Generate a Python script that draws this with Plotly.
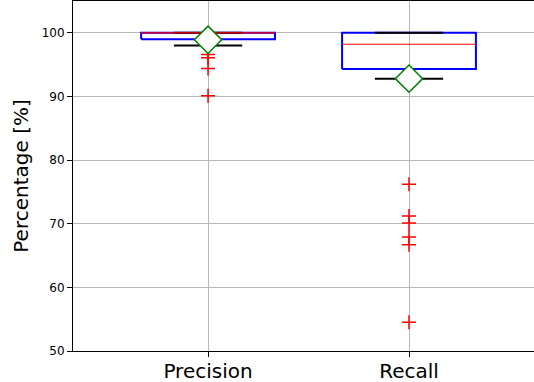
import plotly.graph_objects as go

categories = ["Precision", "Recall"]
q1 = [99.0, 94.3]
median = [100.0, 98.2]
q3 = [100.0, 100.0]
lower_whisker = [98.0, 92.8]
upper_whisker = [100.0, 100.0]
means = [98.9, 92.8]
outliers = [
    [96.6, 96.1, 94.4, 90.1],
    [76.2, 71.2, 70.1, 67.9, 66.7, 54.5],
]
y_ticks = [50, 60, 70, 80, 90, 100]

positions = [1, 2]
box_half = 0.333
cap_half = 0.17

fig = go.Figure()

for i, pos in enumerate(positions):
    # box outline
    fig.add_trace(go.Scatter(
        x=[pos - box_half, pos + box_half, pos + box_half, pos - box_half, pos - box_half],
        y=[q1[i], q1[i], q3[i], q3[i], q1[i]],
        mode="lines", line=dict(color="blue", width=2), hoverinfo="skip", showlegend=False))
    # caps
    fig.add_trace(go.Scatter(
        x=[pos - cap_half, pos + cap_half, None, pos - cap_half, pos + cap_half],
        y=[lower_whisker[i], lower_whisker[i], None, upper_whisker[i], upper_whisker[i]],
        mode="lines", line=dict(color="black", width=2), hoverinfo="skip", showlegend=False))
    # median
    fig.add_trace(go.Scatter(
        x=[pos - box_half, pos + box_half], y=[median[i], median[i]],
        mode="lines", line=dict(color="red", width=1.2), hoverinfo="skip", showlegend=False))
    # outliers
    fig.add_trace(go.Scatter(
        x=[pos] * len(outliers[i]), y=outliers[i], mode="markers",
        marker=dict(symbol="cross-thin", size=10, line=dict(color="red", width=1.5)),
        showlegend=False))
    # mean
    fig.add_trace(go.Scatter(
        x=[pos], y=[means[i]], mode="markers",
        marker=dict(symbol="diamond", size=21, color="white", line=dict(color="green", width=1.5)),
        showlegend=False))

fig.update_layout(
    width=534, height=382,
    margin=dict(l=73, r=0, t=1, b=31, autoexpand=False),
    paper_bgcolor="white", plot_bgcolor="white",
    font=dict(family="DejaVu Sans", color="black"),
    xaxis=dict(range=[0.328, 2.622], tickvals=positions, ticktext=categories,
               tickfont=dict(size=20), showgrid=True, gridcolor="#b8b8b8", gridwidth=1,
               showline=True, linecolor="black", linewidth=1, mirror=True,
               ticks="outside", ticklen=5, tickcolor="black", zeroline=False,
               ticklabelstandoff=-3),
    yaxis=dict(range=[50, 105], tickvals=y_ticks, tickfont=dict(size=12),
               title=dict(text="Percentage [%]", font=dict(size=20), standoff=7),
               showgrid=True, gridcolor="#b8b8b8", gridwidth=1,
               showline=True, linecolor="black", linewidth=1, mirror=False,
               ticks="outside", ticklen=5, tickcolor="black", zeroline=False),
)

fig.write_html("out.html", config={"displayModeBar": False},
               post_script="document.body.style.margin='0';")
